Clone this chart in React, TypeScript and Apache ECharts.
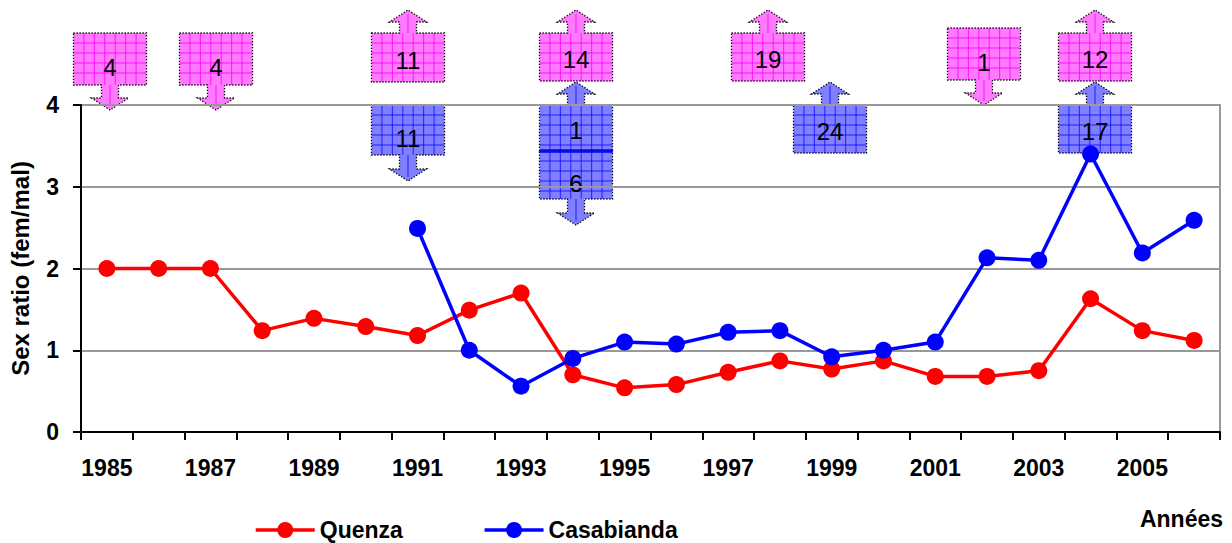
import React, { useEffect, useRef } from "react";
import * as echarts from "echarts";

const years = [
  "1985", "1986", "1987", "1988", "1989", "1990", "1991", "1992", "1993", "1994", "1995",
  "1996", "1997", "1998", "1999", "2000", "2001", "2002", "2003", "2004", "2005", "2006",
];

const quenza = [
  2.0, 2.0, 2.0, 1.24, 1.39, 1.29, 1.18, 1.49, 1.7, 0.7, 0.54,
  0.58, 0.73, 0.87, 0.77, 0.87, 0.68, 0.68, 0.75, 1.63, 1.24, 1.12,
];

const casabianda = [
  null, null, null, null, null, null, 2.49, 1.0, 0.56, 0.9, 1.1,
  1.075, 1.22, 1.24, 0.92, 1.0, 1.1, 2.13, 2.1, 3.4, 2.19, 2.59,
];

const yTicks = [0, 1, 2, 3, 4];

// Sample counts shown in the arrow callouts (text + trend direction)
const quenzaCounts = ["4", "4", "11", "14", "19", "1", "12"];
const quenzaDirs = ["down", "down", "up", "up", "up", "down", "up"];
const casabiandaCounts = ["11", "1", "6", "24", "17"];
const casabiandaDirs = ["down", "up", "down", "up", "up"];

// Layout of callouts (pixels)
const quenzaLayout = [
  { cx: 110, top: 33, bottom: 85, tip: 110 },
  { cx: 216, top: 33, bottom: 85, tip: 110 },
  { cx: 408, top: 33, bottom: 82, tip: 10 },
  { cx: 576, top: 33, bottom: 81, tip: 10 },
  { cx: 768, top: 33, bottom: 81, tip: 10 },
  { cx: 984, top: 28, bottom: 80, tip: 105 },
  { cx: 1095, top: 33, bottom: 81, tip: 10 },
];
const casabiandaLayout = [
  { cx: 408, top: 105, bottom: 155, tip: 181 },
  { cx: 576, top: 105, bottom: 151, tip: 82 },
  { cx: 576, top: 151, bottom: 199, tip: 225 },
  { cx: 830, top: 105, bottom: 153, tip: 82 },
  { cx: 1095, top: 105, bottom: 153, tip: 82 },
];

const FONT = '"Liberation Sans", Arial, sans-serif';

function callout(label: string, dir: string, L: any, fill: string, lineColor: string) {
  const w = 73;
  const x0 = L.cx - w / 2;
  const x1 = L.cx + w / 2;
  const sh = 8.5;
  const hh = 18.5;
  const hl = 12;
  let pts: number[][];
  if (dir === "up") {
    const hb = L.tip + hl;
    pts = [
      [x0, L.top], [L.cx - sh, L.top], [L.cx - sh, hb], [L.cx - hh, hb], [L.cx, L.tip],
      [L.cx + hh, hb], [L.cx + sh, hb], [L.cx + sh, L.top], [x1, L.top], [x1, L.bottom], [x0, L.bottom],
    ];
  } else {
    const hb = L.tip - hl;
    pts = [
      [x0, L.top], [x1, L.top], [x1, L.bottom], [L.cx + sh, L.bottom], [L.cx + sh, hb],
      [L.cx + hh, hb], [L.cx, L.tip], [L.cx - hh, hb], [L.cx - sh, hb], [L.cx - sh, L.bottom], [x0, L.bottom],
    ];
  }
  const children: any[] = [
    {
      type: "polygon",
      shape: { points: pts },
      style: { fill, stroke: null },
    },
  ];
  const cw = w / 7;
  for (let k = 1; k < 7; k++) {
    const x = x0 + k * cw;
    children.push({
      type: "line",
      shape: { x1: x, y1: L.top, x2: x, y2: L.bottom },
      style: { stroke: lineColor, lineWidth: 1 },
    });
  }
  for (let y = L.top + 10; y < L.bottom - 2; y += 10) {
    children.push({
      type: "line",
      shape: { x1: x0, y1: y, x2: x1, y2: y },
      style: { stroke: lineColor, lineWidth: 1 },
    });
  }
  if (dir === "up") {
    children.push({ type: "line", shape: { x1: L.cx, y1: L.tip + 4, x2: L.cx, y2: L.top }, style: { stroke: lineColor, lineWidth: 1 } });
  } else {
    children.push({ type: "line", shape: { x1: L.cx, y1: L.bottom, x2: L.cx, y2: L.tip - 4 }, style: { stroke: lineColor, lineWidth: 1 } });
  }
  children.push({
    type: "polygon",
    shape: { points: pts },
    style: { fill: "none", stroke: "#000", lineWidth: 1.3, lineDash: [1.3, 1.7] },
  });
  const midY = (L.top + L.bottom) / 2 + (dir === "up" ? 2.5 : 8);
  children.push({
    type: "text",
    x: L.cx,
    y: midY,
    style: {
      text: label,
      fill: "#000",
      fontSize: 24,
      fontFamily: FONT,
      textAlign: "center",
      textVerticalAlign: "middle",
    },
  });
  return { type: "group", z: 1, children };
}

export default function App() {
  const ref = useRef<HTMLDivElement>(null);
  useEffect(() => {
    if (!ref.current) return;
    const chart = echarts.init(ref.current, null, { renderer: "svg" });
    const graphics: any[] = [];
    quenzaCounts.forEach((t, i) =>
      graphics.push(callout(t, quenzaDirs[i], quenzaLayout[i], "rgba(255,0,255,0.52)", "rgba(255,0,255,0.85)"))
    );
    casabiandaCounts.forEach((t, i) =>
      graphics.push(callout(t, casabiandaDirs[i], casabiandaLayout[i], "rgba(0,0,255,0.5)", "rgba(0,0,255,0.75)"))
    );
    // separator between the stacked 1994 Casabianda callouts
    graphics.push({
      type: "rect",
      z: 2,
      shape: { x: 540, y: 149, width: 73, height: 4 },
      style: { fill: "rgba(0,0,255,0.75)" },
    });
    graphics.push({
      type: "text",
      right: 9,
      top: 507,
      style: { text: "Années", fill: "#000", fontSize: 23, fontWeight: "bold", fontFamily: FONT },
    });
    chart.setOption({
      animation: false,
      backgroundColor: "#fff",
      grid: {
        left: 80,
        right: 12,
        top: 105,
        bottom: 111,
        show: true,
        borderColor: "#999",
        borderWidth: 2,
        backgroundColor: "transparent",
      },
      legend: {
        data: ["Quenza", "Casabianda"],
        left: 254,
        top: 518,
        padding: 0,
        itemWidth: 59,
        itemHeight: 20,
        itemGap: 80,
        lineStyle: { width: 3.5 },
        textStyle: { fontSize: 23, lineHeight: 24, fontWeight: "bold", fontFamily: FONT, color: "#000" },
      },
      xAxis: {
        type: "category",
        data: years,
        boundaryGap: true,
        axisLine: { lineStyle: { color: "#000", width: 2 } },
        axisTick: { show: true, interval: 0, length: 8, lineStyle: { color: "#000", width: 2 } },
        axisLabel: {
          interval: 1,
          margin: 24,
          fontSize: 23,
          fontWeight: "bold",
          fontFamily: FONT,
          color: "#000",
        },
        splitLine: { show: false },
      },
      yAxis: {
        type: "value",
        min: yTicks[0],
        max: yTicks[yTicks.length - 1],
        interval: 1,
        name: "Sex ratio (fem/mal)",
        nameLocation: "middle",
        nameRotate: 90,
        nameGap: 49,
        nameTextStyle: { fontSize: 24, fontWeight: "bold", fontFamily: FONT, color: "#000" },
        axisLine: { show: true, lineStyle: { color: "#000", width: 2 } },
        axisTick: { show: true, length: 8, lineStyle: { color: "#000", width: 2 } },
        axisLabel: {
          margin: 22,
          fontSize: 23,
          fontWeight: "bold",
          fontFamily: FONT,
          color: "#000",
        },
        splitLine: { lineStyle: { color: "#999", width: 2 } },
      },
      series: [
        {
          name: "Quenza",
          type: "line",
          data: quenza,
          color: "#ff0000",
          symbol: "circle",
          symbolSize: 17,
          lineStyle: { width: 3.5, color: "#ff0000" },
          itemStyle: { color: "#ff0000" },
          z: 3,
        },
        {
          name: "Casabianda",
          type: "line",
          data: casabianda,
          color: "#0000ff",
          symbol: "circle",
          symbolSize: 17,
          connectNulls: false,
          lineStyle: { width: 3.5, color: "#0000ff" },
          itemStyle: { color: "#0000ff" },
          z: 4,
        },
      ],
      graphic: graphics,
    });
    return () => chart.dispose();
  }, []);
  return (
    <div
      ref={ref}
      style={{ position: "absolute", left: 0, top: 0, width: 1232, height: 543 }}
    />
  );
}
